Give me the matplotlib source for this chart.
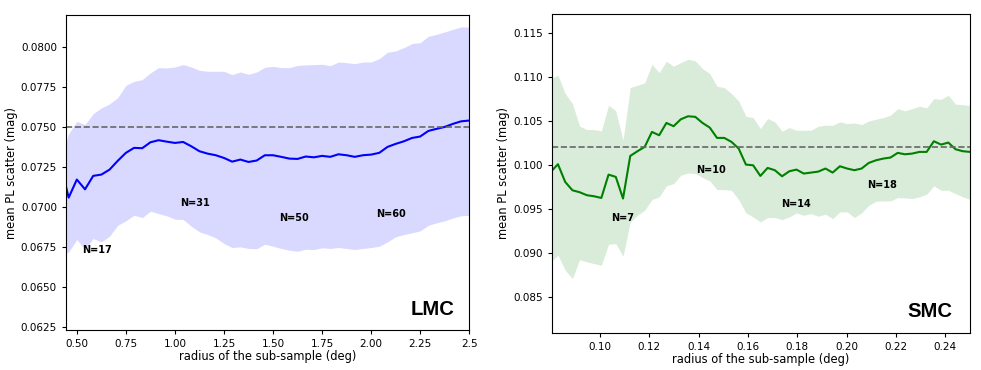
import matplotlib.pyplot as plt
import numpy as np

# LMC: radius grid and mean scatter with its band
lmc_r = np.linspace(0.4158, 2.5, 51)
lmc_mean = [0.07267, 0.07058, 0.07171, 0.07110, 0.07194, 0.07202, 0.07233, 0.07288,
            0.07338, 0.07369, 0.07367, 0.07404, 0.07417, 0.07408, 0.07400, 0.07406,
            0.07379, 0.07348, 0.07333, 0.07323, 0.07306, 0.07283, 0.07296, 0.07281,
            0.07290, 0.07323, 0.07323, 0.07313, 0.07302, 0.07300, 0.07315, 0.07310,
            0.07319, 0.07313, 0.07329, 0.07323, 0.07313, 0.07323, 0.07327, 0.07338,
            0.07375, 0.07394, 0.07410, 0.07431, 0.07440, 0.07475, 0.07488, 0.07500,
            0.07519, 0.07535, 0.07540]
lmc_hi = [0.07296, 0.07458, 0.07535, 0.07515, 0.07583, 0.07619, 0.07644, 0.07683,
          0.07760, 0.07785, 0.07796, 0.07838, 0.07871, 0.07869, 0.07875, 0.07890,
          0.07875, 0.07854, 0.07848, 0.07848, 0.07848, 0.07827, 0.07844, 0.07829,
          0.07844, 0.07873, 0.07879, 0.07871, 0.07871, 0.07885, 0.07888, 0.07890,
          0.07892, 0.07883, 0.07906, 0.07902, 0.07896, 0.07906, 0.07906, 0.07927,
          0.07967, 0.07975, 0.07996, 0.08021, 0.08027, 0.08067, 0.08079, 0.08094,
          0.08110, 0.08125, 0.08125]
lmc_lo = [0.06688, 0.06719, 0.06796, 0.06733, 0.06802, 0.06781, 0.06817, 0.06885,
          0.06913, 0.06948, 0.06933, 0.06973, 0.06958, 0.06944, 0.06923, 0.06921,
          0.06879, 0.06844, 0.06827, 0.06806, 0.06771, 0.06746, 0.06750, 0.06740,
          0.06738, 0.06767, 0.06754, 0.06740, 0.06729, 0.06723, 0.06735, 0.06733,
          0.06744, 0.06740, 0.06746, 0.06740, 0.06733, 0.06740, 0.06746, 0.06754,
          0.06781, 0.06813, 0.06827, 0.06838, 0.06850, 0.06885, 0.06900, 0.06913,
          0.06931, 0.06944, 0.06948]
lmc_ref = 0.075
lmc_n = ["N=17", "N=31", "N=50", "N=60"]
lmc_n_x = [0.604, 1.104, 1.604, 2.102]
lmc_n_y = [0.06733, 0.07027, 0.06933, 0.06958]

# SMC
smc_r = np.linspace(0.08, 0.25, 59)
smc_mean = [0.09917, 0.10004, 0.09803, 0.09708, 0.09686, 0.09652, 0.09640, 0.09621,
            0.09886, 0.09860, 0.09614, 0.10098, 0.10152, 0.10201, 0.10371, 0.10333,
            0.10473, 0.10436, 0.10515, 0.10549, 0.10542, 0.10473, 0.10420, 0.10303,
            0.10303, 0.10258, 0.10182, 0.10000, 0.09992, 0.09871, 0.09962, 0.09936,
            0.09867, 0.09924, 0.09943, 0.09898, 0.09909, 0.09920, 0.09955, 0.09909,
            0.09981, 0.09955, 0.09936, 0.09955, 0.10019, 0.10049, 0.10068, 0.10080,
            0.10133, 0.10117, 0.10125, 0.10144, 0.10144, 0.10265, 0.10227, 0.10250,
            0.10174, 0.10152, 0.10144]
smc_hi = [0.10977, 0.11015, 0.10807, 0.10693, 0.10436, 0.10398, 0.10398, 0.10383,
          0.10674, 0.10610, 0.10277, 0.10875, 0.10902, 0.10928, 0.11140, 0.11045,
          0.11174, 0.11117, 0.11159, 0.11197, 0.11178, 0.11091, 0.11034, 0.10890,
          0.10875, 0.10807, 0.10723, 0.10549, 0.10534, 0.10409, 0.10523, 0.10485,
          0.10379, 0.10420, 0.10390, 0.10390, 0.10390, 0.10436, 0.10447, 0.10447,
          0.10485, 0.10466, 0.10473, 0.10455, 0.10496, 0.10515, 0.10534, 0.10561,
          0.10636, 0.10610, 0.10636, 0.10663, 0.10644, 0.10750, 0.10742, 0.10788,
          0.10686, 0.10682, 0.10667]
smc_lo = [0.08894, 0.08970, 0.08799, 0.08705, 0.08920, 0.08894, 0.08875, 0.08856,
          0.09095, 0.09102, 0.08958, 0.09348, 0.09424, 0.09481, 0.09602, 0.09633,
          0.09758, 0.09784, 0.09879, 0.09905, 0.09898, 0.09852, 0.09814, 0.09716,
          0.09716, 0.09708, 0.09602, 0.09451, 0.09405, 0.09348, 0.09398, 0.09398,
          0.09375, 0.09405, 0.09451, 0.09424, 0.09443, 0.09413, 0.09436, 0.09386,
          0.09462, 0.09462, 0.09398, 0.09451, 0.09538, 0.09583, 0.09587, 0.09587,
          0.09625, 0.09621, 0.09614, 0.09633, 0.09663, 0.09758, 0.09708, 0.09708,
          0.09670, 0.09633, 0.09606]
smc_ref = 0.102
smc_n = ["N=7", "N=10", "N=14", "N=18"]
smc_n_x = [0.1091, 0.1450, 0.1795, 0.2142]
smc_n_y = [0.09394, 0.09936, 0.09549, 0.09773]

lmc_xticks = [0.5, 0.75, 1.0, 1.25, 1.5, 1.75, 2.0, 2.25, 2.5]
lmc_xlabels = ["0.50", "0.75", "1.00", "1.25", "1.50", "1.75", "2.00", "2.25", "2.5"]
lmc_yticks = [0.0625, 0.065, 0.0675, 0.07, 0.0725, 0.075, 0.0775, 0.08]
smc_xticks = [0.10, 0.12, 0.14, 0.16, 0.18, 0.20, 0.22, 0.24]
smc_yticks = [0.085, 0.090, 0.095, 0.100, 0.105, 0.110, 0.115]

fs_tick = 7.5
fs_lab = 8.3
fig = plt.figure(figsize=(9.81, 3.70), dpi=100)

#left panel
ax1 = fig.add_axes([0.0673, 0.108, 0.411, 0.8515])
ax1.fill_between(lmc_r, lmc_lo, lmc_hi, color='blue', alpha=0.15, lw=0)
ax1.plot(lmc_r, lmc_mean, color='blue', lw=1.5)
ax1.axhline(lmc_ref, color='#666666', ls='--', lw=1.2)
for t, x, y in zip(lmc_n, lmc_n_x, lmc_n_y):
    ax1.text(x, y, t, fontsize=7, fontweight='bold', ha='center', va='center')
ax1.text(0.963, 0.048, "LMC", transform=ax1.transAxes, ha='right', va='baseline',
         fontsize=14.6, fontweight='bold', family='Liberation Sans')
ax1.set_xlim(0.444, 2.5)
ax1.set_ylim(0.0623, 0.0820)
ax1.set_xticks(lmc_xticks)
ax1.set_xticklabels(lmc_xlabels)
ax1.set_yticks(lmc_yticks)
ax1.set_yticklabels(["%.4f" % v for v in lmc_yticks])
ax1.tick_params(labelsize=fs_tick, length=3)
ax1.set_xlabel("radius of the sub-sample (deg)", fontsize=fs_lab, labelpad=1)
ax1.set_ylabel("mean PL scatter (mag)", fontsize=fs_lab, labelpad=2)

#right panel
ax2 = fig.add_axes([0.5624, 0.1008, 0.4264, 0.8612])
ax2.fill_between(smc_r, smc_lo, smc_hi, color='green', alpha=0.15, lw=0)
ax2.plot(smc_r, smc_mean, color='green', lw=1.5)
ax2.axhline(smc_ref, color='#666666', ls='--', lw=1.2)
for t, x, y in zip(smc_n, smc_n_x, smc_n_y):
    ax2.text(x, y, t, fontsize=7, fontweight='bold', ha='center', va='center')
ax2.text(0.959, 0.049, "SMC", transform=ax2.transAxes, ha='right', va='baseline',
         fontsize=14.6, fontweight='bold', family='Liberation Sans')
ax2.set_xlim(0.0804, 0.25)
ax2.set_ylim(0.0809, 0.1171)
ax2.set_xticks(smc_xticks)
ax2.set_xticklabels(["%.2f" % v for v in smc_xticks])
ax2.set_yticks(smc_yticks)
ax2.set_yticklabels(["%.3f" % v for v in smc_yticks])
ax2.tick_params(labelsize=fs_tick, length=3)
ax2.set_xlabel("radius of the sub-sample (deg)", fontsize=fs_lab, labelpad=1)
ax2.set_ylabel("mean PL scatter (mag)", fontsize=fs_lab, labelpad=2)

plt.savefig("out.png", dpi=100)
